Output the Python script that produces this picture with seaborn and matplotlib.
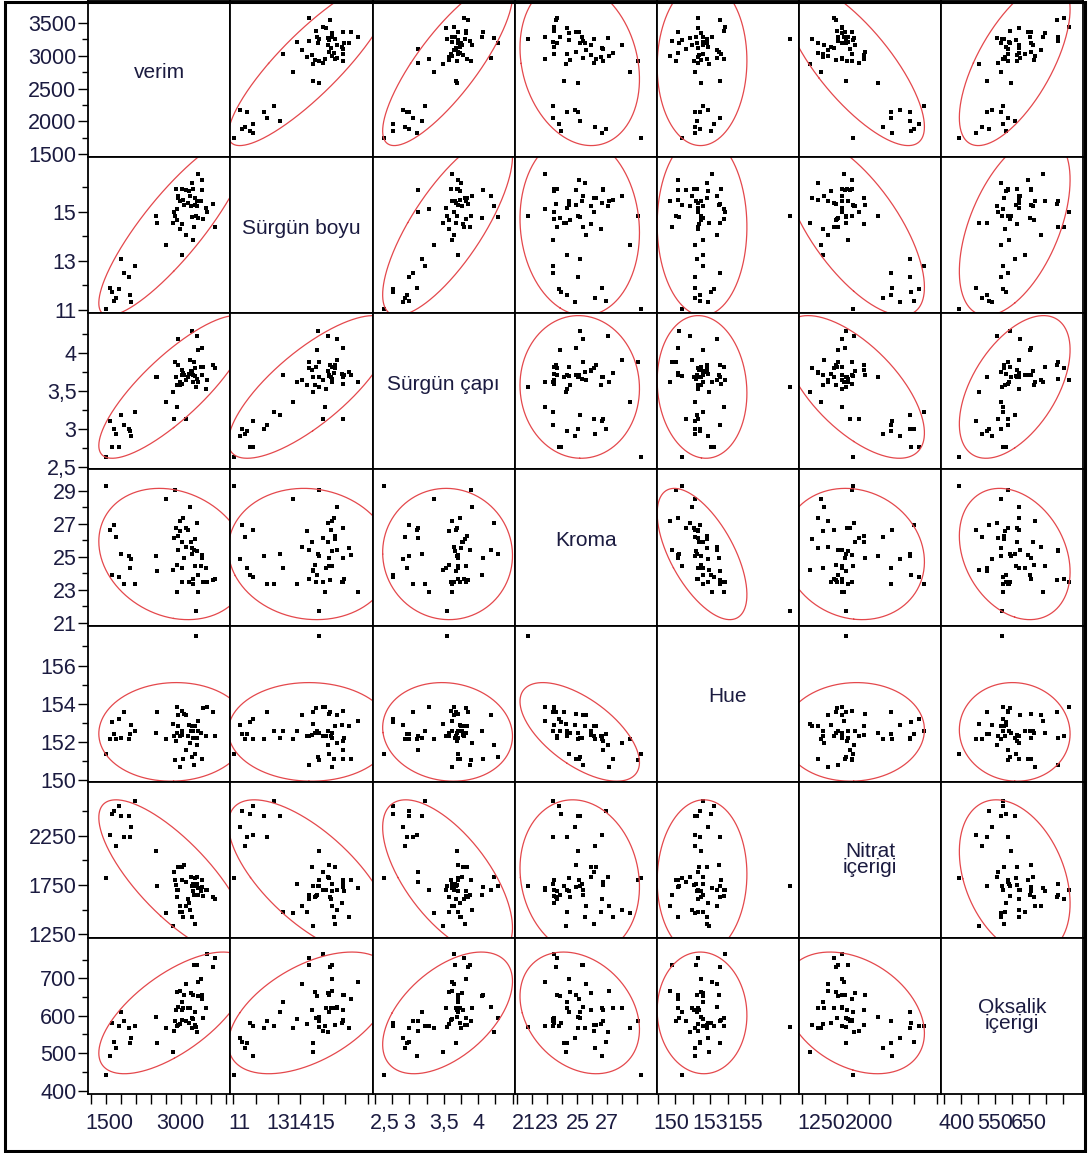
import numpy as np
import pandas as pd
import matplotlib
matplotlib.use("Agg")
import matplotlib.pyplot as plt
import seaborn as sns
from matplotlib.patches import Rectangle
from matplotlib.transforms import ScaledTranslation

# Köşegen etiketleri ve sütun adları
cols = ["verim", "boyu", "capi", "kroma", "hue", "nitrat", "oksalik"]
diag_labels = ["verim", "Sürgün boyu", "Sürgün çapı", "Kroma", "Hue",
               "Nitrat\niçerigi", "Oksalik\niçerigi"]

# Gözlemler (ilk 12: düşük verim grubu, kalan 44: yüksek verim grubu)
verim = [1750, 1822, 1855, 1883, 1917, 1967, 2000, 2056, 2140, 2150, 2173, 2234,
         2580, 2608, 2747, 2870, 2881, 2912, 2922, 2930, 2941, 2950, 2958, 2981,
         2992, 3015, 3022, 3026, 3037, 3048, 3082, 3093, 3121, 3137, 3155, 3166,
         3186, 3192, 3198, 3205, 3215, 3232, 3245, 3252, 3270, 3276, 3282, 3289,
         3344, 3352, 3360, 3368, 3420, 3432, 3539, 3566]
surgun_boyu = [11.03, 11.88, 11.75, 11.37, 11.50, 11.86, 13.07, 12.51, 12.36, 11.59, 11.31, 12.80,
               14.84, 14.55, 13.65, 14.55, 14.99, 14.81, 15.91, 14.66, 15.10, 15.56, 15.63, 14.31,
               15.42, 14.50, 13.22, 15.91, 15.49, 15.29, 14.06, 15.90, 15.35, 15.86, 15.63, 15.22,
               16.17, 14.77, 15.94, 13.84, 14.36, 15.29, 15.56, 14.81, 15.22, 15.42, 14.74, 16.55,
               15.42, 16.27, 15.90, 14.71, 15.15, 15.00, 15.33, 14.36]
surgun_capi = [2.63, 3.11, 2.76, 3.00, 2.93, 2.76, 3.18, 3.05, 3.00, 2.97, 2.91, 3.23,
               3.69, 3.68, 3.36, 3.49, 3.13, 3.89, 3.69, 3.58, 3.29, 3.84, 4.19, 3.58,
               3.62, 3.78, 3.71, 3.60, 3.74, 3.71, 3.65, 3.13, 3.68, 3.73, 3.91, 3.76,
               3.75, 4.29, 3.71, 3.62, 3.88, 3.70, 3.81, 3.55, 4.23, 3.66, 4.05, 3.62,
               3.82, 3.71, 4.07, 3.82, 3.53, 3.65, 3.85, 3.80]
kroma = [29.27, 26.64, 23.91, 26.94, 26.19, 23.79, 25.16, 23.37, 25.06, 24.32, 24.86, 23.37,
         25.06, 24.11, 28.52, 24.22, 26.13, 29.06, 26.74, 24.52, 22.84, 26.23, 25.39, 26.58,
         27.14, 25.89, 24.32, 23.47, 27.35, 24.92, 25.57, 26.74, 26.64, 23.47, 27.99, 25.89,
         25.53, 25.16, 23.67, 23.37, 25.39, 24.42, 26.09, 21.69, 27.04, 25.33, 23.87, 22.84,
         24.42, 25.08, 24.92, 23.47, 24.32, 23.47, 23.57, 23.67]
hue = [151.39, 152.14, 153.04, 152.40, 152.14, 153.23, 152.22, 153.58, 152.14, 152.40, 152.87, 152.57,
       152.48, 153.58, 152.14, 152.95, 152.31, 151.04, 152.05, 152.48, 153.82, 152.83, 153.41, 152.31,
       150.69, 152.36, 152.60, 153.65, 151.14, 153.48, 153.41, 151.61, 152.31, 152.90, 151.96, 152.57,
       152.83, 151.22, 152.22, 152.57, 150.78, 151.39, 152.83, 157.56, 151.87, 152.20, 152.57, 153.09,
       152.48, 151.13, 151.14, 153.79, 152.31, 153.84, 153.58, 152.31]
nitrat = [1818, 2257, 2467, 2501, 2149, 2555, 2450, 2240, 2450, 2240, 2342, 2605,
          2098, 1744, 1463, 1338, 1886, 1801, 1750, 1632, 1700, 1936, 1700, 1480,
          1537, 1936, 1480, 1801, 1429, 1953, 1537, 1780, 1605, 1571, 1497, 1835,
          1429, 1740, 1693, 1760, 1649, 1818, 1355, 1740, 1828, 1760, 1649, 1720,
          1693, 1801, 1733, 1639, 1700, 1700, 1632, 1605]
oksalik = [443, 493, 581, 531, 513, 572, 609, 587, 566, 526, 540, 572,
           596, 526, 566, 504, 560, 587, 615, 664, 572, 575, 624, 579,
           667, 615, 637, 588, 620, 655, 684, 587, 620, 581, 620, 660,
           566, 593, 655, 590, 735, 610, 575, 571, 557, 735, 652, 691,
           697, 646, 655, 593, 620, 766, 731, 753]

# Eksen aralıkları (x ve y aynı)
limits = [(1457, 3830), (10.866, 17.22), (2.464, 4.529), (20.82, 30.29),
          (149.93, 158.09), (1213, 2798), (391.2, 807.8)]

y_major = [[1500, 2000, 2500, 3000, 3500], [11, 13, 15], [2.5, 3, 3.5, 4],
           [21, 23, 25, 27, 29], [150, 152, 154, 156], [1250, 1750, 2250],
           [400, 500, 600, 700]]
y_major_text = [["1500", "2000", "2500", "3000", "3500"], ["11", "13", "15"],
                ["2,5", "3", "3,5", "4"], ["21", "23", "25", "27", "29"],
                ["150", "152", "154", "156"], ["1250", "1750", "2250"],
                ["400", "500", "600", "700"]]
y_minor = [[1750, 2250, 2750, 3250], [12, 14, 16], [2.75, 3.25, 3.75, 4.25],
           [22, 24, 26, 28], [151, 153, 155, 157], [1500, 2000, 2500],
           [450, 550, 650, 750]]

x_ticks = [np.arange(1500, 3751, 250), np.arange(11, 18, 1), np.arange(2.5, 4.51, 0.25),
           np.arange(21, 30, 1), np.arange(150, 158, 1), np.arange(1250, 2751, 250),
           np.arange(400, 751, 50)]
x_shown = [{1500: "1500", 3000: "3000"},
           {11: "11", 13: "13", 14: "14", 15: "15"},
           {2.5: "2,5", 3.0: "3", 3.5: "3,5", 4.0: "4"},
           {21: "21", 23: "23", 25: "25", 27: "27"},
           {150: "150", 153: "153", 155: "155"},
           {1250: "1250", 2000: "2000"},
           {400: "400", 550: "550", 650: "650"}]

TEXT = "#1b1b40"
RED = "#e4484c"


def density_ellipse(x, y, **kws):
    """%95 yoğunluk elipsi (iki değişkenli normal)."""
    ax = plt.gca()
    xy = np.column_stack([x, y])
    mu = xy.mean(axis=0)
    cov = np.cov(xy, rowvar=False)
    vals, vecs = np.linalg.eigh(cov)
    t = np.linspace(0, 2 * np.pi, 400)
    circ = np.vstack([np.cos(t), np.sin(t)])
    pts = vecs @ (np.sqrt(vals)[:, None] * circ) * np.sqrt(5.991)
    ax.plot(mu[0] + pts[0], mu[1] + pts[1], color=RED, lw=0.9)


plt.rcParams['font.family'] = ['Liberation Sans', 'DejaVu Sans']

df = pd.DataFrame({
    "verim": verim, "boyu": surgun_boyu, "capi": surgun_capi, "kroma": kroma,
    "hue": hue, "nitrat": nitrat, "oksalik": oksalik,
})

n = len(cols)
g = sns.PairGrid(df, vars=cols, height=1.5, despine=False)
g.map_offdiag(sns.scatterplot, color="black", marker="s", s=7, linewidth=0)
g.map_offdiag(density_ellipse)

fig = g.figure
fig.set_size_inches(10.88, 11.53)
fig.subplots_adjust(left=88.3 / 1088, right=1083 / 1088, top=1 - 1 / 1153,
                    bottom=1 - 1094 / 1153, wspace=0, hspace=0)

for i in range(n):
    for j in range(n):
        ax = g.axes[i, j]
        ax.set_xlabel("")
        ax.set_ylabel("")
        for sp in ax.spines.values():
            sp.set_linewidth(1.3)
            sp.set_color("black")
        ax.tick_params(which="both", top=False, right=False,
                       bottom=(i == n - 1), left=(j == 0),
                       labelbottom=(i == n - 1), labelleft=(j == 0))

for k in range(n):
    g.axes[0, k].set_xlim(limits[k])
    g.axes[k, 0].set_ylim(limits[k])

# sol sütun: y ekseni
for i in range(n):
    ax = g.axes[i, 0]
    ax.set_yticks(y_major[i], y_major_text[i])
    ax.set_yticks(y_minor[i], minor=True)
    ax.tick_params(axis="y", which="major", length=7.5, width=1, pad=1,
                   labelsize=15.5, labelcolor=TEXT)
    ax.tick_params(axis="y", which="minor", length=4, width=1)

# alt satır: x ekseni
shift = ScaledTranslation(-5 / 100, 0, fig.dpi_scale_trans)
for j in range(n):
    ax = g.axes[n - 1, j]
    ticks = x_ticks[j]
    text = [x_shown[j].get(round(float(v), 2), "") for v in ticks]
    ax.set_xticks(ticks, text)
    ax.tick_params(axis="x", which="major", length=7.5, width=1, pad=6,
                   labelsize=15.5, labelcolor=TEXT)
    ax.tick_params(axis="x", which="minor", length=0)
    first = ax.get_xticklabels()[0]
    first.set_horizontalalignment("left")
    first.set_transform(first.get_transform() + shift)

# köşegen: değişken adları
for i in range(n):
    ax = g.axes[i, i]
    ypos = 0.5 if "\n" in diag_labels[i] else 0.545
    ax.text(0.5, ypos, diag_labels[i], transform=ax.transAxes, ha="center",
            va="center", fontsize=15, color=TEXT, linespacing=0.8)

fig.patches.append(Rectangle((5 / 1088, 2 / 1153), 1080 / 1088, 1149 / 1153,
                             transform=fig.transFigure, fill=False,
                             lw=2.2, ec="black"))

fig.savefig("out.png", dpi=100)
